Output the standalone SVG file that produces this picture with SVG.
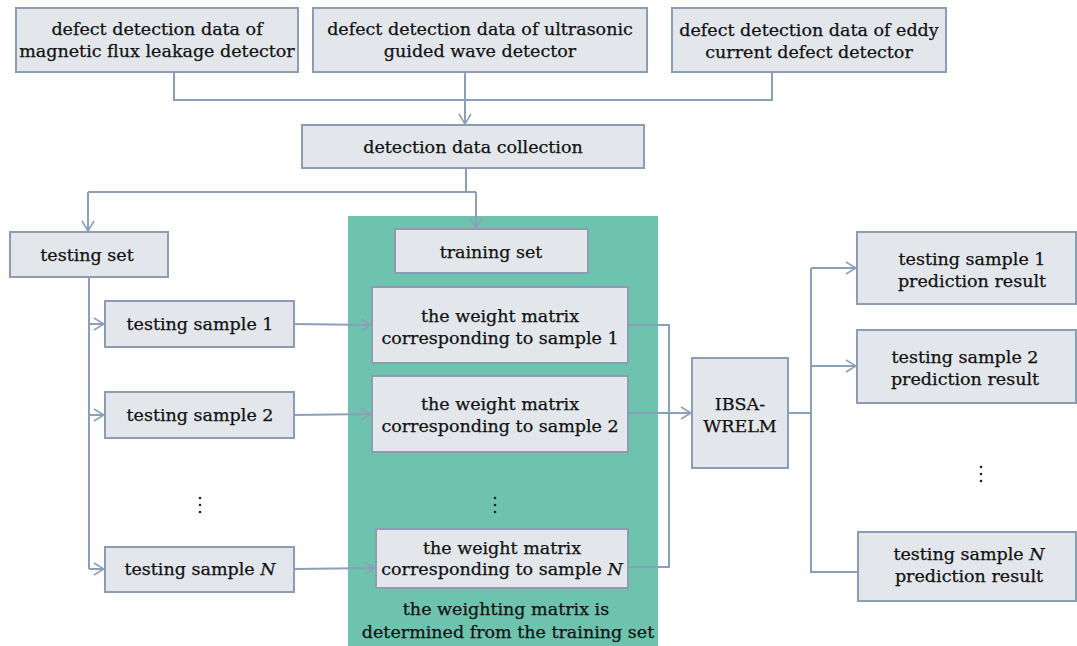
<svg xmlns="http://www.w3.org/2000/svg" width="1077" height="646" viewBox="0 0 1077 646">
<defs>
<marker id="arr" viewBox="0 0 12 14" refX="11" refY="7" markerWidth="12" markerHeight="14" markerUnits="userSpaceOnUse" orient="auto">
<path d="M1,1 L11,7 L1,13" fill="none" stroke="#8a9fba" stroke-width="1.6"/>
</marker>
<style>
.box{fill:#e3e6eb;stroke:#8c9cb4;stroke-width:2}
.t{font-family:'DejaVu Serif','Liberation Serif',serif;font-size:17.5px;fill:#111;stroke:#111;stroke-width:0.25;text-anchor:middle}
.c{fill:none;stroke:#8a9fba;stroke-width:2}
.ca{fill:none;stroke:#8a9fba;stroke-width:2;marker-end:url(#arr)}
.dot{fill:#222}
</style>
</defs>
<rect width="1077" height="646" fill="#ffffff"/>
<rect id="panel" x="348" y="216" width="310" height="430" fill="#6ec3ae"/>

<g id="connectors">
<path class="c" d="M174,72 V100 H772 V72"/>
<path class="ca" d="M465,72 V124"/>
<path class="c" d="M466,168 V192"/>
<path class="c" d="M88,192 H476"/>
<path class="ca" d="M88,192 V231"/>
<path class="ca" d="M476,192 V228"/>
<path class="c" d="M89,277 V569"/>
<path class="ca" d="M89,324 H104"/>
<path class="ca" d="M89,415 H104"/>
<path class="ca" d="M89,569 H104"/>
<path class="ca" d="M294,324 L371,325"/>
<path class="ca" d="M294,415 L371,414"/>
<path class="ca" d="M294,569 L375,568"/>
<path class="c" d="M628,325 H669 V567 H628"/>
<path class="ca" d="M628,413 H691"/>
<path class="c" d="M788,413 H811"/>
<path class="c" d="M811,268 V572 H858"/>
<path class="ca" d="M811,268 H856"/>
<path class="ca" d="M811,366 H856"/>
</g>

<g id="src1"><rect class="box" x="16" y="8" width="282" height="64"/>
<text class="t" x="157" y="34.5">defect detection data of</text>
<text class="t" x="157" y="56.5">magnetic flux leakage detector</text></g>
<g id="src2"><rect class="box" x="313" y="8" width="334" height="64"/>
<text class="t" x="480" y="34.5">defect detection data of ultrasonic</text>
<text class="t" x="480" y="56.5">guided wave detector</text></g>
<g id="src3"><rect class="box" x="672" y="8" width="274" height="64"/>
<text class="t" x="809" y="36">defect detection data of eddy</text>
<text class="t" x="809" y="58">current defect detector</text></g>

<g id="collection"><rect class="box" x="302" y="125" width="342" height="43"/>
<text class="t" x="473" y="152.5">detection data collection</text></g>

<g id="testingset"><rect class="box" x="10" y="232" width="158" height="45"/>
<text class="t" x="87" y="260.5">testing set</text></g>

<g id="sample1"><rect class="box" x="105" y="301" width="189" height="46"/>
<text class="t" x="200" y="330">testing sample 1</text></g>
<g id="sample2"><rect class="box" x="105" y="392" width="189" height="46"/>
<text class="t" x="200" y="421">testing sample 2</text></g>
<g id="dots1"><circle class="dot" cx="200" cy="498" r="1.3"/><circle class="dot" cx="200" cy="505" r="1.3"/><circle class="dot" cx="200" cy="512" r="1.3"/></g>
<g id="sampleN"><rect class="box" x="105" y="547" width="189" height="45"/>
<text class="t" x="200" y="574.5">testing sample <tspan font-style="italic">N</tspan></text></g>

<g id="trainingset"><rect class="box" x="395" y="229" width="193" height="44"/>
<text class="t" x="491" y="258">training set</text></g>
<g id="weight1"><rect class="box" x="372" y="287" width="256" height="76"/>
<text class="t" x="500" y="321.5">the weight matrix</text>
<text class="t" x="500" y="343.5">corresponding to sample 1</text></g>
<g id="weight2"><rect class="box" x="372" y="376" width="256" height="76"/>
<text class="t" x="500" y="409.5">the weight matrix</text>
<text class="t" x="500" y="431.5">corresponding to sample 2</text></g>
<g id="dots2"><circle class="dot" cx="495" cy="498" r="1.3"/><circle class="dot" cx="495" cy="505" r="1.3"/><circle class="dot" cx="495" cy="512" r="1.3"/></g>
<g id="weightN"><rect class="box" x="376" y="529" width="252" height="59"/>
<text class="t" x="502" y="553.5">the weight matrix</text>
<text class="t" x="502" y="575">corresponding to sample <tspan font-style="italic">N</tspan></text></g>
<g id="caption">
<text class="t" x="506" y="614.5">the weighting matrix is</text>
<text class="t" x="508" y="637.5">determined from the training set</text></g>

<g id="ibsa"><rect class="box" x="692" y="358" width="96" height="110"/>
<text class="t" x="740" y="409.5">IBSA-</text>
<text class="t" x="740" y="431.5">WRELM</text></g>

<g id="res1"><rect class="box" x="857" y="232" width="219" height="72"/>
<text class="t" x="972" y="264.5">testing sample 1</text>
<text class="t" x="972" y="286.5">prediction result</text></g>
<g id="res2"><rect class="box" x="857" y="330" width="219" height="73"/>
<text class="t" x="965" y="362.5">testing sample 2</text>
<text class="t" x="965" y="384.5">prediction result</text></g>
<g id="dots3"><circle class="dot" cx="981" cy="467" r="1.3"/><circle class="dot" cx="981" cy="474" r="1.3"/><circle class="dot" cx="981" cy="481" r="1.3"/></g>
<g id="resN"><rect class="box" x="858" y="532" width="218" height="69"/>
<text class="t" x="969" y="559.5">testing sample <tspan font-style="italic">N</tspan></text>
<text class="t" x="969" y="581.5">prediction result</text></g>
</svg>
